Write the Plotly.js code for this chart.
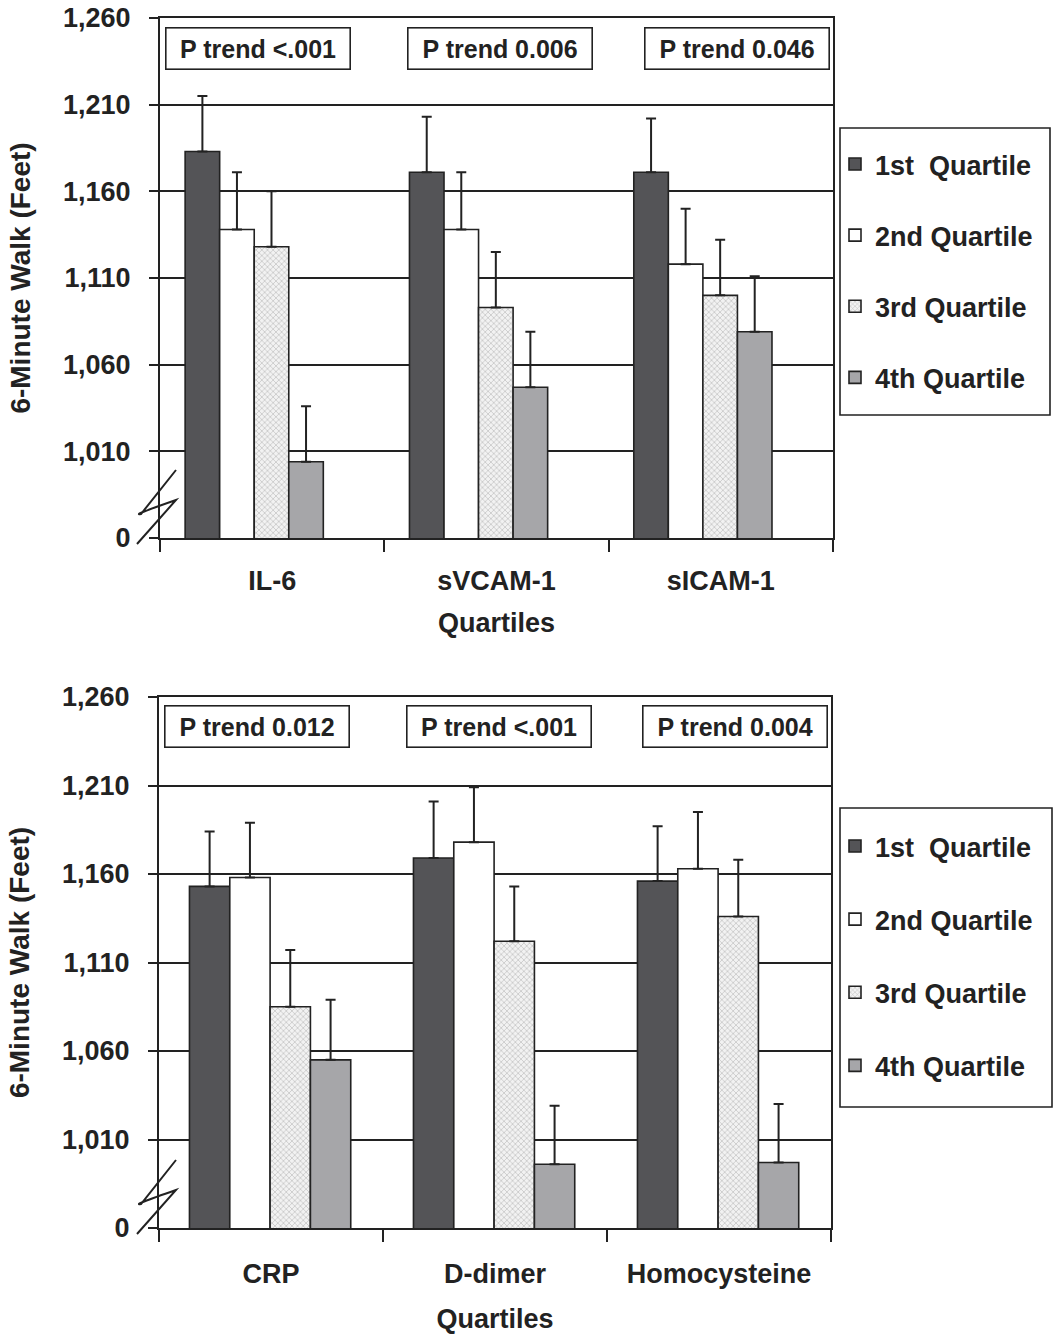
<!DOCTYPE html>
<html><head><meta charset="utf-8">
<script src="https://cdn.plot.ly/plotly-3.0.1.min.js"></script>
<style>body{margin:0;background:#fff}#c{width:1053px;height:1334px}</style>
</head><body><div id="c"></div>
<script>
// ---- data ----
const catsTop = ['IL-6', 'sVCAM-1', 'sICAM-1'];
const catsBot = ['CRP', 'D-dimer', 'Homocysteine'];
const seriesNames = ['1st\u00a0 Quartile', '2nd Quartile', '3rd Quartile', '4th Quartile'];

const topQ1 = [1183, 1171, 1171], topQ1Err = [32, 32, 31];
const topQ2 = [1138, 1138, 1118], topQ2Err = [33, 33, 32];
const topQ3 = [1128, 1093, 1100], topQ3Err = [32, 32, 32];
const topQ4 = [1004, 1047, 1079], topQ4Err = [32, 32, 32];

const botQ1 = [1153, 1169, 1156], botQ1Err = [31, 32, 31];
const botQ2 = [1158, 1178, 1163], botQ2Err = [31, 31, 32];
const botQ3 = [1085, 1122, 1136], botQ3Err = [32, 31, 32];
const botQ4 = [1055, 996, 997],   botQ4Err = [34, 33, 33];

const pTrendTop = ['P trend <.001', 'P trend 0.006', 'P trend 0.046'];
const pTrendBot = ['P trend 0.012', 'P trend <.001', 'P trend 0.004'];

const yTickVals = [960, 1010, 1060, 1110, 1160, 1210, 1260];
const yTickText = ['0', '1,010', '1,060', '1,110', '1,160', '1,210', '1,260'];

// ---- styles ----
const W = 1053, H = 1334;
const FONT = 'Liberation Sans, Arial, Helvetica, sans-serif';
const ink = '#222222';
const styles = [
  {color: '#545457'},
  {color: '#ffffff'},
  {color: '#eeeeee', pattern: {shape: 'x', size: 4, solidity: 0.3, fgcolor: '#bdbdbd', bgcolor: '#f2f2f2'}},
  {color: '#a6a6a9'}
];

// bar placement within each category (fraction of category width)
const topBar = {start: -0.388, width: 0.154};
const botBar = {start: -0.364, width: 0.180};

function mk(cats, vals, errs, i, xa, ya, leg, geo) {
  const m = {color: styles[i].color, line: {color: ink, width: 1.6}};
  if (styles[i].pattern) m.pattern = styles[i].pattern;
  return {
    type: 'bar', x: cats, y: vals, name: seriesNames[i],
    xaxis: xa, yaxis: ya, legend: leg, legendgroup: leg + i,
    offset: geo.start + i * geo.width, width: geo.width,
    marker: m,
    error_y: {type: 'data', symmetric: false, array: errs, arrayminus: errs.map(() => 0),
              visible: true, color: ink, thickness: 2, width: 5},
    hoverinfo: 'skip'
  };
}

const data = [
  mk(catsTop, topQ1, topQ1Err, 0, 'x', 'y', 'legend', topBar),
  mk(catsTop, topQ2, topQ2Err, 1, 'x', 'y', 'legend', topBar),
  mk(catsTop, topQ3, topQ3Err, 2, 'x', 'y', 'legend', topBar),
  mk(catsTop, topQ4, topQ4Err, 3, 'x', 'y', 'legend', topBar),
  mk(catsBot, botQ1, botQ1Err, 0, 'x2', 'y2', 'legend2', botBar),
  mk(catsBot, botQ2, botQ2Err, 1, 'x2', 'y2', 'legend2', botBar),
  mk(catsBot, botQ3, botQ3Err, 2, 'x2', 'y2', 'legend2', botBar),
  mk(catsBot, botQ4, botQ4Err, 3, 'x2', 'y2', 'legend2', botBar)
];

const px = v => v / W, py = v => 1 - v / H;

function xax(anchor, dom, labelGap, titleGap) {
  return {
    domain: dom, anchor: anchor, type: 'category',
    showline: true, linecolor: ink, linewidth: 2, mirror: true,
    ticks: 'outside', tickson: 'boundaries', ticklen: 12, tickwidth: 2, tickcolor: ink,
    ticklabelstandoff: labelGap,
    tickfont: {family: FONT, size: 27, color: ink, weight: 'bold'},
    showgrid: false, zeroline: false, fixedrange: true,
    title: {text: 'Quartiles', font: {family: FONT, size: 27, color: ink, weight: 'bold'}, standoff: titleGap}
  };
}
function yax(anchor, dom) {
  return {
    domain: dom, anchor: anchor, range: [960, 1260],
    tickmode: 'array', tickvals: yTickVals, ticktext: yTickText,
    showline: true, linecolor: ink, linewidth: 2, mirror: true,
    ticks: 'outside', ticklen: 9, tickwidth: 2, tickcolor: ink,
    ticklabelstandoff: 13,
    tickfont: {family: FONT, size: 27, color: ink, weight: 'bold'},
    showgrid: true, gridcolor: ink, gridwidth: 2, zeroline: false, fixedrange: true,
    title: {text: '6-Minute Walk (Feet)', font: {family: FONT, size: 28, color: ink, weight: 'bold'}, standoff: 24}
  };
}

function boxes(texts, centersX, yPix) {
  return texts.map((t, i) => ({
    text: t, xref: 'paper', yref: 'paper', x: px(centersX[i]), y: py(yPix), showarrow: false,
    xanchor: 'center', yanchor: 'middle', width: 171, height: 28,
    font: {family: FONT, size: 25, color: ink, weight: 'bold'},
    bordercolor: ink, borderwidth: 1.6, borderpad: 6, bgcolor: '#ffffff'
  }));
}

function breakMark(baseY) {
  // zigzag axis-break decoration near the y axis (pixel -> paper coordinates)
  let d = 'M ' + px(137) + ',' + py(baseY + 6);
  d += ' L ' + px(176) + ',' + py(baseY - 38);
  d += ' Q ' + px(130) + ',' + py(baseY - 22) + ' ' + px(141) + ',' + py(baseY - 24);
  d += ' L ' + px(176) + ',' + py(baseY - 68);
  return {type: 'path', xref: 'paper', yref: 'paper', path: d, line: {color: ink, width: 2}};
}

function legendBox(x0, y0, x1, y1) {
  return {type: 'rect', xref: 'paper', yref: 'paper', x0: px(x0), x1: px(x1), y0: py(y1), y1: py(y0),
          line: {color: ink, width: 1.6}, fillcolor: 'rgba(0,0,0,0)'};
}

function legendCfg(topPix, gap) {
  return {
    x: px(835), y: py(topPix), xanchor: 'left', yanchor: 'top',
    font: {family: FONT, size: 27, color: ink, weight: 'bold'},
    borderwidth: 0, bgcolor: 'rgba(0,0,0,0)',
    traceorder: 'grouped', tracegroupgap: gap, itemclick: false, itemdoubleclick: false
  };
}

const layout = {
  width: W, height: H,
  margin: {l: 0, r: 0, t: 0, b: 0},
  paper_bgcolor: '#ffffff', plot_bgcolor: '#ffffff',
  barmode: 'overlay',
  font: {family: FONT, color: ink},
  showlegend: true,
  xaxis: xax('y', [px(160), px(833)], 18, 18),
  yaxis: yax('x', [py(538), py(18)]),
  xaxis2: xax('y2', [px(159), px(831)], 21, 21),
  yaxis2: yax('x2', [py(1228), py(697)]),
  legend: legendCfg(140, 33),
  legend2: legendCfg(822, 35),
  annotations: [].concat(
    boxes(pTrendTop, [257.5, 499.5, 736.5], 48),
    boxes(pTrendBot, [256.5, 498.5, 734.5], 727)
  ),
  shapes: [breakMark(538), breakMark(1228),
           legendBox(840, 128, 1050, 415), legendBox(840, 808, 1052, 1107)]
};

Plotly.newPlot('c', data, layout, {staticPlot: true, displayModeBar: false});
</script>
</body></html>
